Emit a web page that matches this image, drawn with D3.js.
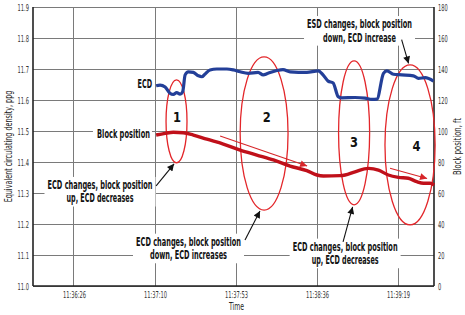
<!DOCTYPE html>
<html><head><meta charset="utf-8">
<script src="https://cdn.jsdelivr.net/npm/d3@7"></script>
<style>
html,body{margin:0;padding:0;background:#fff;}
svg{display:block;font-family:"DejaVu Sans Condensed","DejaVu Sans",sans-serif;font-stretch:condensed;}
</style></head>
<body>
<svg id="chart" width="465" height="315"></svg>
<script>
// ---- data (time in seconds after 11:36:00) ----
const tickSeconds = [26, 69.3, 112.6, 155.9, 199.2];
const tickLabels = ["11:36:26", "11:37:10", "11:37:53", "11:38:36", "11:39:19"];
const leftTicks = [11.0, 11.1, 11.2, 11.3, 11.4, 11.5, 11.6, 11.7, 11.8, 11.9];
const rightTicks = [0, 20, 40, 60, 80, 100, 120, 140, 160, 180];

const ecdTime  = [69.9, 72.0, 74.7, 77.3, 79.1, 80.9, 82.7, 84.1, 85.4, 87.1, 89.8, 92.5, 94.3, 96.1, 98.7, 102.3, 107.7, 111.2, 114.8, 119.1, 124.4, 127.1, 129.7, 134.4, 137.7, 141.5, 150.4, 156.5, 159.1, 161.8, 164.5, 167.2, 169.1, 176.2, 181.6, 185.2, 187.9, 191.4, 193.2, 196.7, 201.2, 207.4, 210.1, 213.7, 218.1];
const ecdValue = [11.646, 11.648, 11.642, 11.622, 11.618, 11.624, 11.619, 11.627, 11.681, 11.691, 11.689, 11.678, 11.675, 11.684, 11.697, 11.700, 11.700, 11.697, 11.691, 11.686, 11.689, 11.681, 11.686, 11.695, 11.698, 11.691, 11.689, 11.694, 11.681, 11.661, 11.655, 11.611, 11.607, 11.608, 11.606, 11.602, 11.603, 11.686, 11.694, 11.683, 11.681, 11.678, 11.670, 11.672, 11.661];

const blockTime  = [69.9, 74.7, 79.1, 84.4, 89.8, 97.0, 105.8, 114.8, 123.7, 132.6, 141.5, 150.4, 155.8, 159.3, 168.2, 170.9, 176.2, 183.4, 188.7, 194.0, 199.4, 204.7, 209.2, 212.8, 216.3, 218.5];
const blockValue = [97.4, 98.5, 99.2, 98.9, 97.4, 94.7, 91.6, 87.7, 84.5, 81.3, 77.4, 74.4, 71.6, 71.0, 71.2, 71.6, 73.7, 75.9, 74.8, 71.6, 70.1, 69.5, 67.3, 66.3, 66.3, 65.2];

// annotations in data units (seconds, ppg)
const ellipses = [
  {cx: 80.8, cy: 11.531, rx: 5.6, ry: 0.134, label: "1", lx: 81.1, ly: 11.545},
  {cx: 127.6, cy: 11.492, rx: 12.8, ry: 0.247, label: "2", lx: 129.0, ly: 11.545},
  {cx: 175.7, cy: 11.494, rx: 8.3, ry: 0.232, label: "3", lx: 175.7, ly: 11.465},
  {cx: 205.6, cy: 11.455, rx: 13.4, ry: 0.258, label: "4", lx: 209.1, ly: 11.452}
];
const redArrows = [
  {x1: 104.1, y1: 11.484, x2: 150.6, y2: 11.387},
  {x1: 194.9, y1: 11.380, x2: 214.7, y2: 11.347}
];
const blackArrows = [
  {x1: 69.9, y1: 11.323, x2: 79.5, y2: 11.394},
  {x1: 117.4, y1: 11.148, x2: 125.4, y2: 11.242},
  {x1: 169.8, y1: 11.142, x2: 174.9, y2: 11.255},
  {x1: 201.1, y1: 11.795, x2: 204.8, y2: 11.718}
];
const notes = [
  {x: 39.9, y: 11.326, lines: ["ECD changes, block position", "up, ECD decreases"]},
  {x: 87.2, y: 11.143, lines: ["ECD changes, block position", "down, ECD increases"]},
  {x: 170.9, y: 11.127, lines: ["ECD changes, block position", "up, ECD decreases"]},
  {x: 178.6, y: 11.845, lines: ["ESD changes, block position", "down, ECD increase"]}
];
const seriesLabels = [
  {x: 67.7, y: 11.652, text: "ECD"},
  {x: 66.6, y: 11.490, text: "Block position"}
];

// ---- layout / style ----
const noteWidths = [[105, 67], [105, 77], [105, 67], [105, 73]];
const seriesLabelWidths = [14.5, 53];
const L = 33, R = 434, T = 7, B = 286;
const svg = d3.select("#chart");
const x = d3.scaleLinear().domain([4.1, 218.4]).range([L, R]);
const yL = d3.scaleLinear().domain([11.0, 11.9]).range([B, T]);
const yR = d3.scaleLinear().domain([0, 180]).range([B, T]);

// draw a horizontally condensed text (narrow face imitation) at (px, py)
function narrowText(parent, px, py, str, width, opts) {
  const g = parent.append("g");
  const t = g.append("text").attr("x", 0).attr("y", 0).attr("dy", "0.35em")
    .attr("text-anchor", opts.anchor || "middle").attr("font-size", opts.size)
    .attr("font-weight", opts.weight || "normal").attr("fill", opts.fill || "#111").text(str);
  const w = t.node().getComputedTextLength();
  const sx = width / w;
  g.attr("transform", `translate(${px},${py}) scale(${sx},1)`);
  return g;
}

const gridColor = "#7a7a7a";
svg.append("g").selectAll("line").data(leftTicks).join("line")
  .attr("x1", L).attr("x2", R).attr("y1", d => yL(d)).attr("y2", d => yL(d))
  .attr("stroke", gridColor).attr("stroke-width", 1).attr("shape-rendering", "crispEdges");
svg.append("g").selectAll("line").data(tickSeconds).join("line")
  .attr("x1", d => x(d)).attr("x2", d => x(d)).attr("y1", T).attr("y2", B)
  .attr("stroke", gridColor).attr("stroke-width", 1).attr("shape-rendering", "crispEdges");

// axes
const axL = svg.append("g").attr("transform", `translate(${L},0)`)
  .call(d3.axisLeft(yL).tickValues(leftTicks).tickFormat(d3.format(".1f")).tickSize(0).tickPadding(4));
const axR = svg.append("g").attr("transform", `translate(${R},0)`)
  .call(d3.axisRight(yR).tickValues(rightTicks).tickSize(0).tickPadding(4));
const axB = svg.append("g").attr("transform", `translate(0,${B})`)
  .call(d3.axisBottom(x).tickValues(tickSeconds).tickFormat((d, i) => tickLabels[i]).tickSize(0).tickPadding(5));
[axL, axR, axB].forEach(g => {
  g.select(".domain").attr("stroke", "#222").attr("stroke-width", 1.6);
  g.selectAll("text").attr("font-size", 9.5).attr("fill", "#333")
    .style("font-family", '"DejaVu Sans Condensed","DejaVu Sans",sans-serif');
});
axL.select(".domain").attr("d", `M0,${T}V${B}`);
axR.select(".domain").attr("d", `M0,${T}V${B}`);
axB.select(".domain").attr("d", `M${L},0H${R}`);
const refW = axB.select(".tick text").node().getComputedTextLength();
const k = 23 / refW;
[axL, axR, axB].forEach(g => g.selectAll(".tick text").each(function () {
  const t = d3.select(this);
  const x0 = +t.attr("x") || 0;
  t.attr("x", x0 / k).attr("transform", `scale(${k},1)`);
}));

// axis titles
svg.append("g").attr("transform", `translate(12,${(T + B) / 2}) rotate(-90)`)
  .call(g => narrowText(g, 0, -3.5, "Equivalent circulating density, ppg", 112, {size: 10.5, fill: "#222"}));
svg.append("g").attr("transform", `translate(461,${(T + B) / 2}) rotate(-90)`)
  .call(g => narrowText(g, 0, -3.5, "Block position, ft", 57, {size: 10.5, fill: "#222"}));
narrowText(svg, (L + R) / 2 + 3, 306, "Time", 15, {size: 10.5, fill: "#222"});

// ellipses
const ellRed = "#e3262a";
svg.append("g").selectAll("ellipse").data(ellipses).join("ellipse")
  .attr("cx", d => x(d.cx)).attr("cy", d => yL(d.cy))
  .attr("rx", d => x(d.cx + d.rx) - x(d.cx)).attr("ry", d => yL(d.cy - d.ry) - yL(d.cy))
  .attr("fill", "none").attr("stroke", ellRed).attr("stroke-width", 1.3);

// data lines
const ecdLine = d3.line().x((d, i) => x(ecdTime[i])).y(d => yL(d)).curve(d3.curveMonotoneX);
svg.append("path").datum(ecdValue).attr("d", ecdLine)
  .attr("fill", "none").attr("stroke", "#233f98").attr("stroke-width", 3.2).attr("stroke-linejoin", "round");
const blockLine = d3.line().x((d, i) => x(blockTime[i])).y(d => yR(d)).curve(d3.curveMonotoneX);
svg.append("path").datum(blockValue).attr("d", blockLine)
  .attr("fill", "none").attr("stroke", "#c0101a").attr("stroke-width", 3.4).attr("stroke-linejoin", "round");

// ellipse numbers
const numG = svg.append("g");
ellipses.forEach(d => narrowText(numG, x(d.lx), yL(d.ly), d.label, 8, {size: 14, weight: "bold"}));

// arrow markers
const defs = svg.append("defs");
function marker(id, color) {
  defs.append("marker").attr("id", id).attr("viewBox", "0 0 10 10").attr("refX", 10).attr("refY", 5)
    .attr("markerWidth", 9).attr("markerHeight", 7).attr("markerUnits", "userSpaceOnUse").attr("orient", "auto")
    .append("path").attr("d", "M0,0L10,5L0,10Z").attr("fill", color);
}
marker("ar", "#d7262a");
marker("ab", "#111");
svg.append("g").selectAll("line").data(redArrows).join("line")
  .attr("x1", d => x(d.x1)).attr("y1", d => yL(d.y1)).attr("x2", d => x(d.x2)).attr("y2", d => yL(d.y2))
  .attr("stroke", "#d7262a").attr("stroke-width", 1.1).attr("marker-end", "url(#ar)");

// annotation notes with white backgrounds
const noteG = svg.append("g");
notes.forEach((n, ni) => {
  const g = noteG.append("g");
  const rect = g.append("rect").attr("fill", "#fff");
  const cx = x(n.x), cy = yL(n.y);
  n.lines.forEach((ln, i) => narrowText(g, cx, cy + i * 13.3, ln, noteWidths[ni][i], {size: 12, weight: "bold"}));
  const wMax = d3.max(noteWidths[ni]);
  rect.attr("x", cx - wMax / 2 - 3).attr("y", cy - 8).attr("width", wMax + 6).attr("height", 13.3 * n.lines.length + 3);
});
seriesLabels.forEach((s, si) => {
  const g = noteG.append("g");
  const w = seriesLabelWidths[si];
  g.append("rect").attr("fill", "#fff")
    .attr("x", x(s.x) - w - 4).attr("y", yL(s.y) - 7).attr("width", w + 6).attr("height", 14);
  narrowText(g, x(s.x), yL(s.y), s.text, w, {size: 12, weight: "bold", anchor: "end"});
});

svg.append("g").selectAll("line").data(blackArrows).join("line")
  .attr("x1", d => x(d.x1)).attr("y1", d => yL(d.y1)).attr("x2", d => x(d.x2)).attr("y2", d => yL(d.y2))
  .attr("stroke", "#111").attr("stroke-width", 1.1).attr("marker-end", "url(#ab)");
</script>
</body></html>
